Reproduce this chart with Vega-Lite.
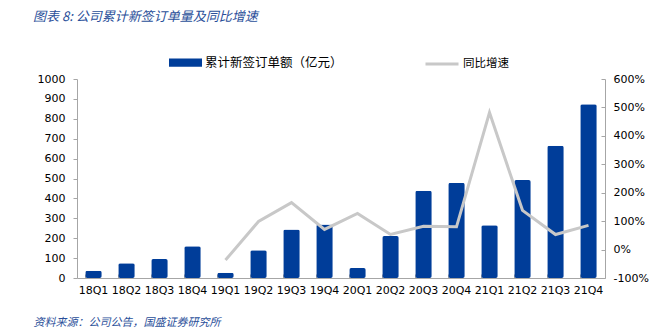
{
  "$schema": "https://vega.github.io/schema/vega-lite/v6.json",
  "width": 528,
  "height": 199,
  "autosize": {"type": "none"},
  "padding": {"left": 77, "top": 79, "right": 52, "bottom": 55},
  "background": "white",
  "title": {
    "text": "图表 8:  公司累计新签订单量及同比增速",
    "anchor": "start",
    "frame": "group",
    "dx": -44,
    "offset": 22,
    "font": "Noto Sans CJK SC",
    "fontSize": 13,
    "fontStyle": "italic",
    "fontWeight": "normal",
    "color": "#2a4f9a"
  },
  "config": {
    "view": {"stroke": null},
    "axis": {"labelFont": "DejaVu Sans", "labelFontSize": 11, "labelColor": "#000000", "domainColor": "#a6a6a6", "tickColor": "#a6a6a6", "grid": false}
  },
  "data": {
    "values": [
      {"q": "18Q1", "amt": 37, "yoy": null},
      {"q": "18Q2", "amt": 74, "yoy": null},
      {"q": "18Q3", "amt": 95, "yoy": null},
      {"q": "18Q4", "amt": 159, "yoy": null},
      {"q": "19Q1", "amt": 27, "yoy": -37},
      {"q": "19Q2", "amt": 139, "yoy": 99},
      {"q": "19Q3", "amt": 244, "yoy": 165},
      {"q": "19Q4", "amt": 269, "yoy": 71},
      {"q": "20Q1", "amt": 50, "yoy": 127},
      {"q": "20Q2", "amt": 211, "yoy": 53},
      {"q": "20Q3", "amt": 438, "yoy": 82},
      {"q": "20Q4", "amt": 478, "yoy": 80},
      {"q": "21Q1", "amt": 265, "yoy": 482},
      {"q": "21Q2", "amt": 492, "yoy": 138},
      {"q": "21Q3", "amt": 664, "yoy": 53},
      {"q": "21Q4", "amt": 873, "yoy": 85}
    ]
  },
  "encoding": {
    "x": {
      "field": "q",
      "type": "ordinal",
      "sort": null,
      "scale": {"paddingInner": 0.5, "paddingOuter": 0.25},
      "axis": {
        "labelAngle": 0,
        "bandPosition": 0,
        "tickSize": -4,
        "labelPadding": 10,
        "title": "资料来源：公司公告，国盛证券研究所",
        "titleFont": "Noto Sans CJK SC",
        "titleFontSize": 11,
        "titleFontStyle": "italic",
        "titleFontWeight": "normal",
        "titleColor": "#2a4f9a",
        "titleAnchor": "start",
        "titleAlign": "left",
        "titleX": -44,
        "titleY": 38
      }
    }
  },
  "layer": [
    {
      "mark": {"type": "bar", "cornerRadius": 2},
      "encoding": {
        "y": {
          "field": "amt",
          "type": "quantitative",
          "scale": {"domain": [0, 1000]},
          "axis": {"values": [0, 100, 200, 300, 400, 500, 600, 700, 800, 900, 1000], "format": "d", "title": null, "tickSize": 4, "labelPadding": 8}
        },
        "fill": {
          "datum": "累计新签订单额（亿元）",
          "scale": {"range": ["#003d99"]},
          "legend": {
            "orient": "none",
            "legendX": 92,
            "legendY": -33,
            "title": null,
            "symbolType": "M-1,-0.25H1V0.25H-1Z",
            "symbolSize": 1089,
            "symbolStrokeWidth": 0,
            "labelFont": "Noto Sans CJK SC",
            "labelFontSize": 12.5,
            "labelColor": "#000000",
            "labelOffset": 3
          }
        }
      }
    },
    {
      "transform": [{"filter": "datum.yoy != null"}],
      "mark": {"type": "line", "strokeWidth": 3},
      "encoding": {
        "y": {
          "field": "yoy",
          "type": "quantitative",
          "scale": {"domain": [-100, 600]},
          "axis": {"orient": "right", "values": [-100, 0, 100, 200, 300, 400, 500, 600], "labelExpr": "datum.value + '%'", "title": null, "tickSize": -4, "labelPadding": 12}
        },
        "stroke": {
          "datum": "同比增速",
          "scale": {"range": ["#c8c8c8"]},
          "legend": {
            "orient": "none",
            "legendX": 347,
            "legendY": -33,
            "title": null,
            "symbolType": "stroke",
            "symbolSize": 1089,
            "symbolStrokeWidth": 3,
            "labelFont": "Noto Sans CJK SC",
            "labelFontSize": 11.5,
            "labelColor": "#000000",
            "labelOffset": 3
          }
        }
      }
    }
  ],
  "resolve": {"scale": {"y": "independent", "fill": "independent", "stroke": "independent"}}
}
